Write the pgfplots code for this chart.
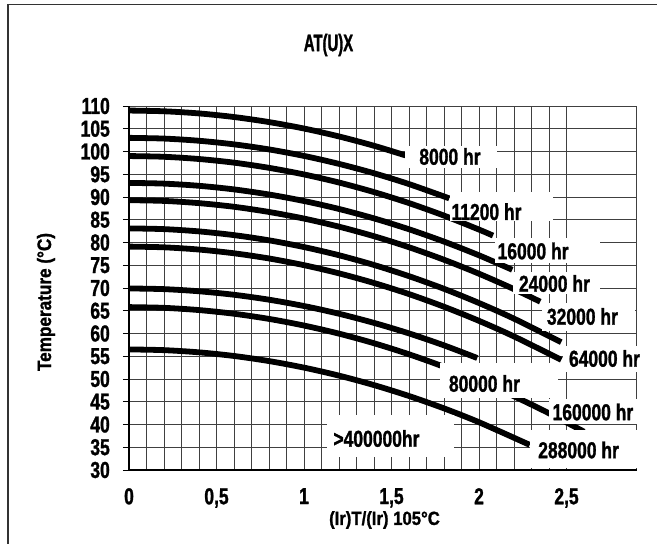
\documentclass[border=0pt]{standalone}
\usepackage{pgfplots}
\pgfplotsset{compat=1.18}
\usepackage{fontspec}
\setmainfont{Liberation Sans}[FakeStretch=0.76, BoldFeatures={FakeBold=1.2}]
\newfontfamily\titlefont{Liberation Sans}[FakeStretch=0.62, BoldFeatures={FakeBold=1.2}]
\newfontfamily\labfont{Liberation Sans}[FakeStretch=0.88, BoldFeatures={FakeBold=1.2}]
\newcommand{\lab}{\fontsize{23bp}{25bp}\selectfont\bfseries}
\begin{document}
\begin{tikzpicture}
\useasboundingbox (-129bp,-74bp) rectangle (528bp,470bp);
\draw[line width=1.5bp, black!80] (-121bp,-100bp) -- (-121bp,465.5bp) -- (600bp,465.5bp);
\node[font=\titlefont\fontsize{24bp}{26bp}\selectfont\bfseries] at (199.5bp,425bp) {AT(U)X};
\node[font=\labfont\fontsize{19bp}{20bp}\selectfont\bfseries] at (255.5bp,-50bp) {(Ir)T/(Ir) 105°C};
\node[font=\labfont\fontsize{19.5bp}{20bp}\selectfont\bfseries, rotate=90] at (-83bp,168bp) {Temperature (°C)};
\begin{axis}[
  at={(0,0)}, anchor=south west,
  scale only axis, width=507.5bp, height=364bp,
  xmin=0, xmax=2.9, ymin=30, ymax=110,
  xtick={0,0.5,1,1.5,2,2.5},
  xticklabels={0,{0,5},1,{1,5},2,{2,5}},
  minor x tick num=4,
  ytick={30,35,...,110},
  grid=both,
  major grid style={black!75, line width=0.7bp},
  minor grid style={black!75, line width=0.7bp},
  axis line style={black!75, line width=0.7bp},
  tick align=outside, major tick length=6bp, minor tick length=0bp,
  xtick style={draw=none},
  ytick pos=left,
  ytick style={black, line width=0.8bp},
  clip=false,
  /pgf/number format/assume math mode=true,
  tick label style={font=\lab},
  yticklabel style={anchor=east, inner sep=0pt, xshift=-13bp},
  xticklabel style={anchor=north, inner sep=0pt, yshift=-12bp},
  curve/.style={black, line width=5.8bp, smooth, line cap=butt, no markers},
]
% 8000 hr
\addplot[curve] coordinates {(0,109) (0.2,108.84) (0.4,108.37) (0.6,107.58) (0.8,106.47) (1.0,105.05) (1.2,103.31) (1.4,101.26) (1.58,99.14)};
% 11200 hr
\addplot[curve] coordinates {(0,103) (0.2,102.84) (0.4,102.36) (0.6,101.57) (0.8,100.46) (1.0,99.03) (1.2,97.28) (1.4,95.22) (1.6,92.84) (1.83,89.70)};
% 16000 hr
\addplot[curve] coordinates {(0,99) (0.2,98.84) (0.4,98.35) (0.6,97.55) (0.8,96.41) (1.0,94.96) (1.2,93.18) (1.4,91.08) (1.6,88.66) (1.8,85.91) (2.0,82.84) (2.08,81.52)};
% 24000 hr
\addplot[curve] coordinates {(0,93.1) (0.2,92.94) (0.4,92.46) (0.6,91.67) (0.8,90.55) (1.0,89.12) (1.2,87.37) (1.4,85.30) (1.6,82.91) (1.8,80.20) (2.0,77.18) (2.19,74.01)};
% 32000 hr
\addplot[curve] coordinates {(0,89.3) (0.2,89.14) (0.4,88.65) (0.6,87.85) (0.8,86.71) (1.0,85.26) (1.2,83.48) (1.4,81.38) (1.6,78.96) (1.8,76.21) (2.0,73.14) (2.2,69.75) (2.35,66.99)};
% unlabeled 83
\addplot[curve] coordinates {(0,83.1) (0.2,82.94) (0.4,82.44) (0.6,81.62) (0.8,80.48) (1.0,79.0) (1.2,77.20) (1.4,75.06) (1.6,72.60) (1.8,69.82) (2.0,66.70) (2.2,63.26) (2.47,58.09)};
% 64000 hr
\addplot[curve] coordinates {(0,79.1) (0.2,78.94) (0.4,78.45) (0.6,77.63) (0.8,76.49) (1.0,75.02) (1.2,73.22) (1.4,71.10) (1.6,68.66) (1.8,65.88) (2.0,62.78) (2.2,59.35) (2.47,54.21)};
% 80000 hr
\addplot[curve] coordinates {(0,69.9) (0.2,69.75) (0.4,69.28) (0.6,68.51) (0.8,67.43) (1.0,66.04) (1.2,64.34) (1.4,62.33) (1.6,60.02) (1.8,57.39) (1.99,54.61)};
% 160000 hr
\addplot[curve] coordinates {(0,65.8) (0.2,65.64) (0.4,65.15) (0.6,64.34) (0.8,63.21) (1.0,61.75) (1.2,59.97) (1.4,57.86) (1.6,55.43) (1.8,52.68) (2.0,49.60) (2.2,46.20) (2.4,42.47) (2.6,38.42)};
% 288000 hr
\addplot[curve] coordinates {(0,56.5) (0.2,56.34) (0.4,55.86) (0.6,55.06) (0.8,53.94) (1.0,52.5) (1.2,50.74) (1.4,48.66) (1.6,46.26) (1.8,43.54) (2.0,40.5) (2.29,35.52)};

\draw[black, line width=1.5bp] (axis cs:0,110) -- (axis cs:0,30) -- (axis cs:2.9,30);

\fill[white] (axis cs:1.577,96.4) rectangle (axis cs:2.103,101.2);
\fill[white] (axis cs:1.834,84.8) rectangle (axis cs:2.423,91.1);
\fill[white] (axis cs:2.091,75.5) rectangle (axis cs:2.691,81.0);
\fill[white] (axis cs:2.194,68.7) rectangle (axis cs:2.691,73.5);
\fill[white] (axis cs:2.36,60.6) rectangle (axis cs:2.891,66.7);
\fill[white] (axis cs:2.48,51.5) rectangle (axis cs:2.95,57.3);
\fill[white] (axis cs:1.777,45.8) rectangle (axis cs:2.451,53.5);
\fill[white] (axis cs:2.40,40.1) rectangle (axis cs:2.95,45.6);
\fill[white] (axis cs:2.291,30.4) rectangle (axis cs:2.95,38.8);
\fill[white] (axis cs:1.131,32.9) rectangle (axis cs:1.857,42.1);

\begin{scope}[every node/.style={font=\lab, inner sep=0pt}]
\node at (axis cs:1.834,98.9) {8000 hr};
\node at (axis cs:2.043,86.77) {11200 hr};
\node at (axis cs:2.309,78.13) {16000 hr};
\node at (axis cs:2.431,70.99) {24000 hr};
\node at (axis cs:2.591,63.74) {32000 hr};
\node at (axis cs:2.717,54.51) {64000 hr};
\node at (axis cs:2.031,49.01) {80000 hr};
\node at (axis cs:2.651,42.75) {160000 hr};
\node at (axis cs:2.569,34.40) {288000 hr};
\node at (axis cs:1.414,36.92) {>400000hr};
\end{scope}
\end{axis}
\end{tikzpicture}
\end{document}
